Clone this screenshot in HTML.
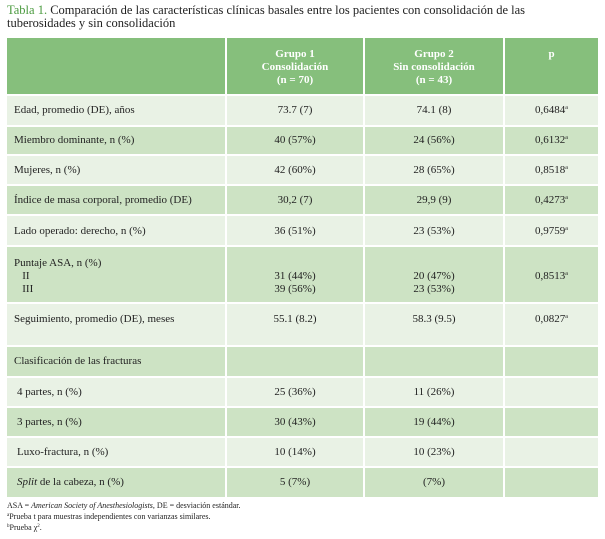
<!DOCTYPE html>
<html><head><meta charset="utf-8"><style>
body{margin:0;width:605px;height:539px;background:#fff;font-family:"Liberation Serif",serif;color:#222;position:relative;overflow:hidden}
.t{position:absolute;font-size:11px;white-space:nowrap;line-height:13px}
sup{font-size:6px;line-height:0;vertical-align:0;position:relative;top:-4px}
.c{position:absolute}
.h{background:#86bf7c}
.L{background:#e9f2e5}
.D{background:#cde3c4}
.hd{color:#fff;font-weight:bold;text-align:center}
</style></head><body>
<div class="t" style="left:7px;top:4px;font-size:12.5px;line-height:13px;color:#222"><span style="color:#4a9a3e">Tabla 1.</span> Comparación de las características clínicas basales entre los pacientes con consolidación de las<br>tuberosidades y sin consolidación</div>
<div id="g"></div>
<script>
var cols=[[7,225],[227,363],[365,503],[505,598]];
var rows=[[38,94,'h'],[96,125,'L'],[127,154,'D'],[156,184,'L'],[186,214,'D'],[216,245,'L'],[247,302,'D'],[304,345,'L'],[347,376,'D'],[378,406,'L'],[408,436,'D'],[438,466,'L'],[468,497,'D']];
var h='';
rows.forEach(function(r){cols.forEach(function(c){h+='<div class="c '+r[2]+'" style="left:'+c[0]+'px;top:'+r[0]+'px;width:'+(c[1]-c[0])+'px;height:'+(r[1]-r[0])+'px"></div>';});});
document.getElementById('g').innerHTML=h;
</script>
<div class="t hd" style="left:227px;width:136px;top:48px;line-height:13px">Grupo 1<br>Consolidación<br>(n = 70)</div>
<div class="t hd" style="left:365px;width:138px;top:48px;line-height:13px">Grupo 2<br>Sin consolidación<br>(n = 43)</div>
<div class="t hd" style="left:505px;width:93px;top:48px">p</div>

<div class="t" style="left:14px;top:104px">Edad, promedio (DE), años</div>
<div class="t" style="left:227px;width:136px;text-align:center;top:104px">73.7 (7)</div>
<div class="t" style="left:365px;width:138px;text-align:center;top:104px">74.1 (8)</div>
<div class="t" style="left:505px;width:93px;text-align:center;top:104px">0,6484<sup>a</sup></div>

<div class="t" style="left:14px;top:134px">Miembro dominante, n (%)</div>
<div class="t" style="left:227px;width:136px;text-align:center;top:134px">40 (57%)</div>
<div class="t" style="left:365px;width:138px;text-align:center;top:134px">24 (56%)</div>
<div class="t" style="left:505px;width:93px;text-align:center;top:134px">0,6132<sup>a</sup></div>

<div class="t" style="left:14px;top:164px">Mujeres, n (%)</div>
<div class="t" style="left:227px;width:136px;text-align:center;top:164px">42 (60%)</div>
<div class="t" style="left:365px;width:138px;text-align:center;top:164px">28 (65%)</div>
<div class="t" style="left:505px;width:93px;text-align:center;top:164px">0,8518<sup>a</sup></div>

<div class="t" style="left:14px;top:194px">Índice de masa corporal, promedio (DE)</div>
<div class="t" style="left:227px;width:136px;text-align:center;top:194px">30,2 (7)</div>
<div class="t" style="left:365px;width:138px;text-align:center;top:194px">29,9 (9)</div>
<div class="t" style="left:505px;width:93px;text-align:center;top:194px">0,4273<sup>a</sup></div>

<div class="t" style="left:14px;top:225px">Lado operado: derecho, n (%)</div>
<div class="t" style="left:227px;width:136px;text-align:center;top:225px">36 (51%)</div>
<div class="t" style="left:365px;width:138px;text-align:center;top:225px">23 (53%)</div>
<div class="t" style="left:505px;width:93px;text-align:center;top:225px">0,9759<sup>a</sup></div>

<div class="t" style="left:14px;top:257px">Puntaje ASA, n (%)<br>&nbsp;&nbsp;&nbsp;II<br>&nbsp;&nbsp;&nbsp;III</div>
<div class="t" style="left:227px;width:136px;text-align:center;top:270px">31 (44%)<br>39 (56%)</div>
<div class="t" style="left:365px;width:138px;text-align:center;top:270px">20 (47%)<br>23 (53%)</div>
<div class="t" style="left:505px;width:93px;text-align:center;top:270px">0,8513<sup>a</sup></div>

<div class="t" style="left:14px;top:313px">Seguimiento, promedio (DE), meses</div>
<div class="t" style="left:227px;width:136px;text-align:center;top:313px">55.1 (8.2)</div>
<div class="t" style="left:365px;width:138px;text-align:center;top:313px">58.3 (9.5)</div>
<div class="t" style="left:505px;width:93px;text-align:center;top:313px">0,0827<sup>a</sup></div>

<div class="t" style="left:14px;top:355px">Clasificación de las fracturas</div>

<div class="t" style="left:17px;top:386px">4 partes, n (%)</div>
<div class="t" style="left:227px;width:136px;text-align:center;top:386px">25 (36%)</div>
<div class="t" style="left:365px;width:138px;text-align:center;top:386px">11 (26%)</div>

<div class="t" style="left:17px;top:416px">3 partes, n (%)</div>
<div class="t" style="left:227px;width:136px;text-align:center;top:416px">30 (43%)</div>
<div class="t" style="left:365px;width:138px;text-align:center;top:416px">19 (44%)</div>

<div class="t" style="left:17px;top:446px">Luxo-fractura, n (%)</div>
<div class="t" style="left:227px;width:136px;text-align:center;top:446px">10 (14%)</div>
<div class="t" style="left:365px;width:138px;text-align:center;top:446px">10 (23%)</div>

<div class="t" style="left:17px;top:476px"><i>Split</i> de la cabeza, n (%)</div>
<div class="t" style="left:227px;width:136px;text-align:center;top:476px">5 (7%)</div>
<div class="t" style="left:365px;width:138px;text-align:center;top:476px">(7%)</div>

<div class="t" style="left:7px;top:500px;font-size:8px;line-height:11px">ASA = <i>American Society of Anesthesiologists</i>, DE = desviación estándar.<br><sup style="font-size:5px;top:-3px">a</sup>Prueba t para muestras independientes con varianzas similares.<br><sup style="font-size:5px;top:-3px">b</sup>Prueba χ<sup style="font-size:5px;top:-3px">2</sup>.</div>
</body></html>
